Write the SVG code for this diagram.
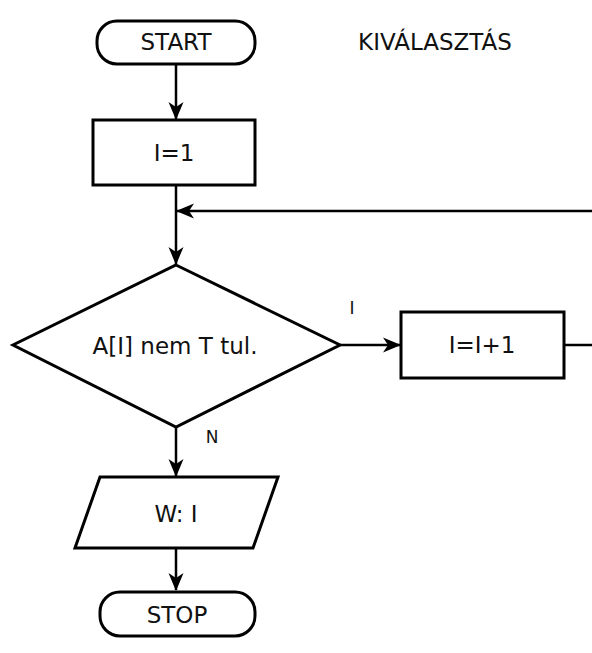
<svg xmlns="http://www.w3.org/2000/svg" width="592" height="653" viewBox="0 0 592 653">
<style>
.shape{fill:#fff;stroke:#000;stroke-width:3}
.line{fill:none;stroke:#000;stroke-width:2.5}
.t{font-family:"DejaVu Sans","Liberation Sans",sans-serif;font-size:23px;fill:#111;text-anchor:middle;dominant-baseline:central}
.s{font-family:"DejaVu Sans","Liberation Sans",sans-serif;font-size:17px;fill:#111;text-anchor:middle;dominant-baseline:central}
</style>
<defs>
<marker id="arr" markerUnits="userSpaceOnUse" markerWidth="18" markerHeight="18" refX="17" refY="9" orient="auto">
<path d="M0,1.5 L18,9 L0,16.5 L5,9 Z" fill="#000"/>
</marker>
</defs>
<rect width="592" height="653" fill="#fff"/>
<g id="connectors">
<path class="line" d="M176,64 V119" marker-end="url(#arr)"/>
<path class="line" d="M176,185 V264" marker-end="url(#arr)"/>
<path class="line" d="M592,211 H177" marker-end="url(#arr)"/>
<path class="line" d="M340,345 H400" marker-end="url(#arr)"/>
<path class="line" d="M564,345 H592"/>
<path class="line" d="M176,427 V476" marker-end="url(#arr)"/>
<path class="line" d="M176,548 V590" marker-end="url(#arr)"/>
<text class="s" x="352" y="308">I</text>
<text class="s" x="212" y="437">N</text>
</g>
<g id="start">
<rect class="shape" x="97" y="21" width="158" height="43" rx="20" ry="20"/>
<text class="t" x="176" y="42">START</text>
</g>
<g id="title">
<text class="t" x="435" y="42">KIVÁLASZTÁS</text>
</g>
<g id="init">
<rect class="shape" x="93" y="120" width="162" height="65"/>
<text class="t" x="174" y="153">I=1</text>
</g>
<g id="decision">
<polygon class="shape" points="176,265 340,345 176,427 13,345"/>
<text class="t" x="175" y="346">A[I] nem T tul.</text>
</g>
<g id="increment">
<rect class="shape" x="401" y="312" width="163" height="66"/>
<text class="t" x="482" y="345">I=I+1</text>
</g>
<g id="output">
<polygon class="shape" points="100,477 278,477 253,548 75,548"/>
<text class="t" x="176" y="514">W: I</text>
</g>
<g id="stop">
<rect class="shape" x="100" y="592" width="155" height="44" rx="20" ry="20"/>
<text class="t" x="177" y="615">STOP</text>
</g>
</svg>
